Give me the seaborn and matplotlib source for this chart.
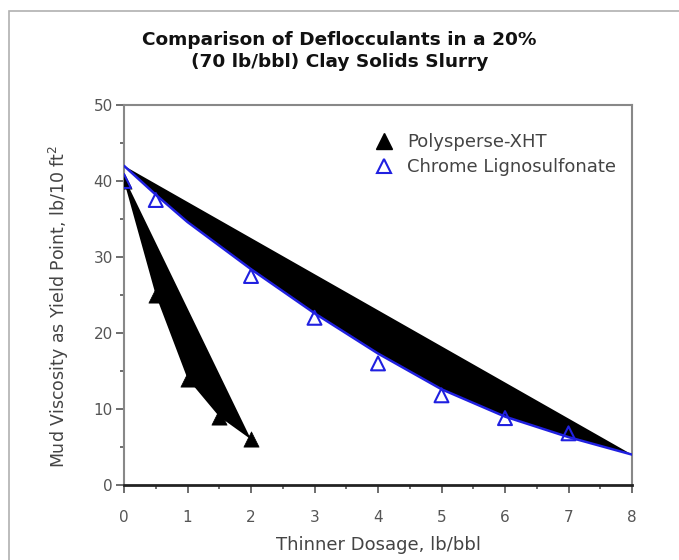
import matplotlib
matplotlib.use("Agg")
import matplotlib.pyplot as plt
import seaborn as sns
import numpy as np
import pandas as pd
from matplotlib.lines import Line2D
from matplotlib.patches import Rectangle

# ---- data ----
title = "Comparison of Deflocculants in a 20%\n(70 lb/bbl) Clay Solids Slurry"
x_label = "Thinner Dosage, lb/bbl"
y_label = "Mud Viscosity as Yield Point, lb/10 ft$^2$"

poly_x = [0, 0.5, 1, 1.5, 2]
poly_y = [40, 25, 14, 9, 6]
poly_line_x = [0, 2]
poly_line_y = [40.5, 6]

chrome_x = [0, 0.5, 2, 3, 4, 5, 6, 7]
chrome_y = [40, 37.5, 27.5, 22, 16, 11.8, 8.8, 6.8]
chrome_fit_x = [0, 0.5, 1, 2, 3, 4, 5, 6, 7, 8]
chrome_fit_y = [42, 38.2, 34.6, 28.4, 22.6, 17.3, 12.6, 9.0, 6.3, 4]
chrome_line_x = [0, 8]
chrome_line_y = [42, 4]

x_ticks = [0, 1, 2, 3, 4, 5, 6, 7, 8]
y_ticks = [0, 10, 20, 30, 40, 50]

sns.set_theme(style="white")
plt.rcParams['font.family'] = ['DejaVu Sans']

fig = plt.figure(figsize=(6.79, 5.60), dpi=100)
ax = fig.add_axes([124/679, 1-485/560, 508/679, 380/560])

# outer frame
fig.patches.append(Rectangle((9/679, -0.1), 1.2, 1.1 - 11/560, transform=fig.transFigure,
                             fill=False, edgecolor="#b0b0b0", linewidth=1.2))

blue = "#2020e0"

# filled regions
ax.fill(np.concatenate([poly_line_x, poly_x[::-1]]),
        np.concatenate([poly_line_y, poly_y[::-1]]), color="black", lw=0, zorder=2)
ax.fill(np.concatenate([chrome_line_x, chrome_fit_x[::-1]]),
        np.concatenate([chrome_line_y, chrome_fit_y[::-1]]), color="black", lw=0, zorder=2)

df_fit = pd.DataFrame({"x": chrome_fit_x, "y": chrome_fit_y})
sns.lineplot(data=df_fit, x="x", y="y", ax=ax, color=blue, lw=1.8, zorder=3)

df_poly = pd.DataFrame({"x": poly_x, "y": poly_y})
df_chrome = pd.DataFrame({"x": chrome_x, "y": chrome_y})
sns.scatterplot(data=df_poly, x="x", y="y", ax=ax, marker="^", s=120,
                color="black", edgecolor="black", linewidth=0.5, zorder=4)
sns.scatterplot(data=df_chrome, x="x", y="y", ax=ax, marker="^", s=100,
                facecolor="none", edgecolor=blue, linewidth=1.5, zorder=5)

ax.set_xlim(0, 8)
ax.set_ylim(0, 50)
ax.set_xticks(x_ticks)
ax.set_yticks(y_ticks)
ax.set_xticks(np.arange(0.5, 8, 1), minor=True)
ax.set_yticks(np.arange(5, 50, 10), minor=True)
ax.tick_params(axis="both", which="major", direction="out", length=6, width=1.2,
               color="#555555", labelcolor="#555555", labelsize=11, left=True, bottom=True)
ax.tick_params(axis="y", which="major", pad=2)
ax.tick_params(axis="x", which="major", pad=12)
ax.tick_params(axis="both", which="minor", direction="out", length=3, width=1.2,
               color="#555555", left=True, bottom=True)

for side in ["top", "right", "left"]:
    ax.spines[side].set_color("#888888")
    ax.spines[side].set_linewidth(1.5)
ax.spines["bottom"].set_color("#222222")
ax.spines["bottom"].set_linewidth(2)

ax.set_xlabel(x_label, fontsize=13, color="#444444", labelpad=8)
ax.set_ylabel(y_label, fontsize=12.5, color="#444444")
ax.yaxis.set_label_coords(-0.105, 0.47)

fig.text(0.5, 1-51/560, title, ha="center", va="center", fontsize=13.3,
         fontweight="bold", color="#111111", linespacing=1.25)

handles = [Line2D([], [], marker="^", color="black", ls="none", markersize=11),
           Line2D([], [], marker="^", markerfacecolor="none", markeredgecolor=blue,
                  markeredgewidth=1.5, ls="none", markersize=10)]
ax.legend(handles, ["Polysperse-XHT", "Chrome Lignosulfonate"], loc="upper left",
          bbox_to_anchor=(0.462, 0.945), frameon=False, fontsize=13, handletextpad=0.3,
          labelspacing=0.4, labelcolor="#444444", borderaxespad=0)

fig.savefig("out.png", dpi=100)
